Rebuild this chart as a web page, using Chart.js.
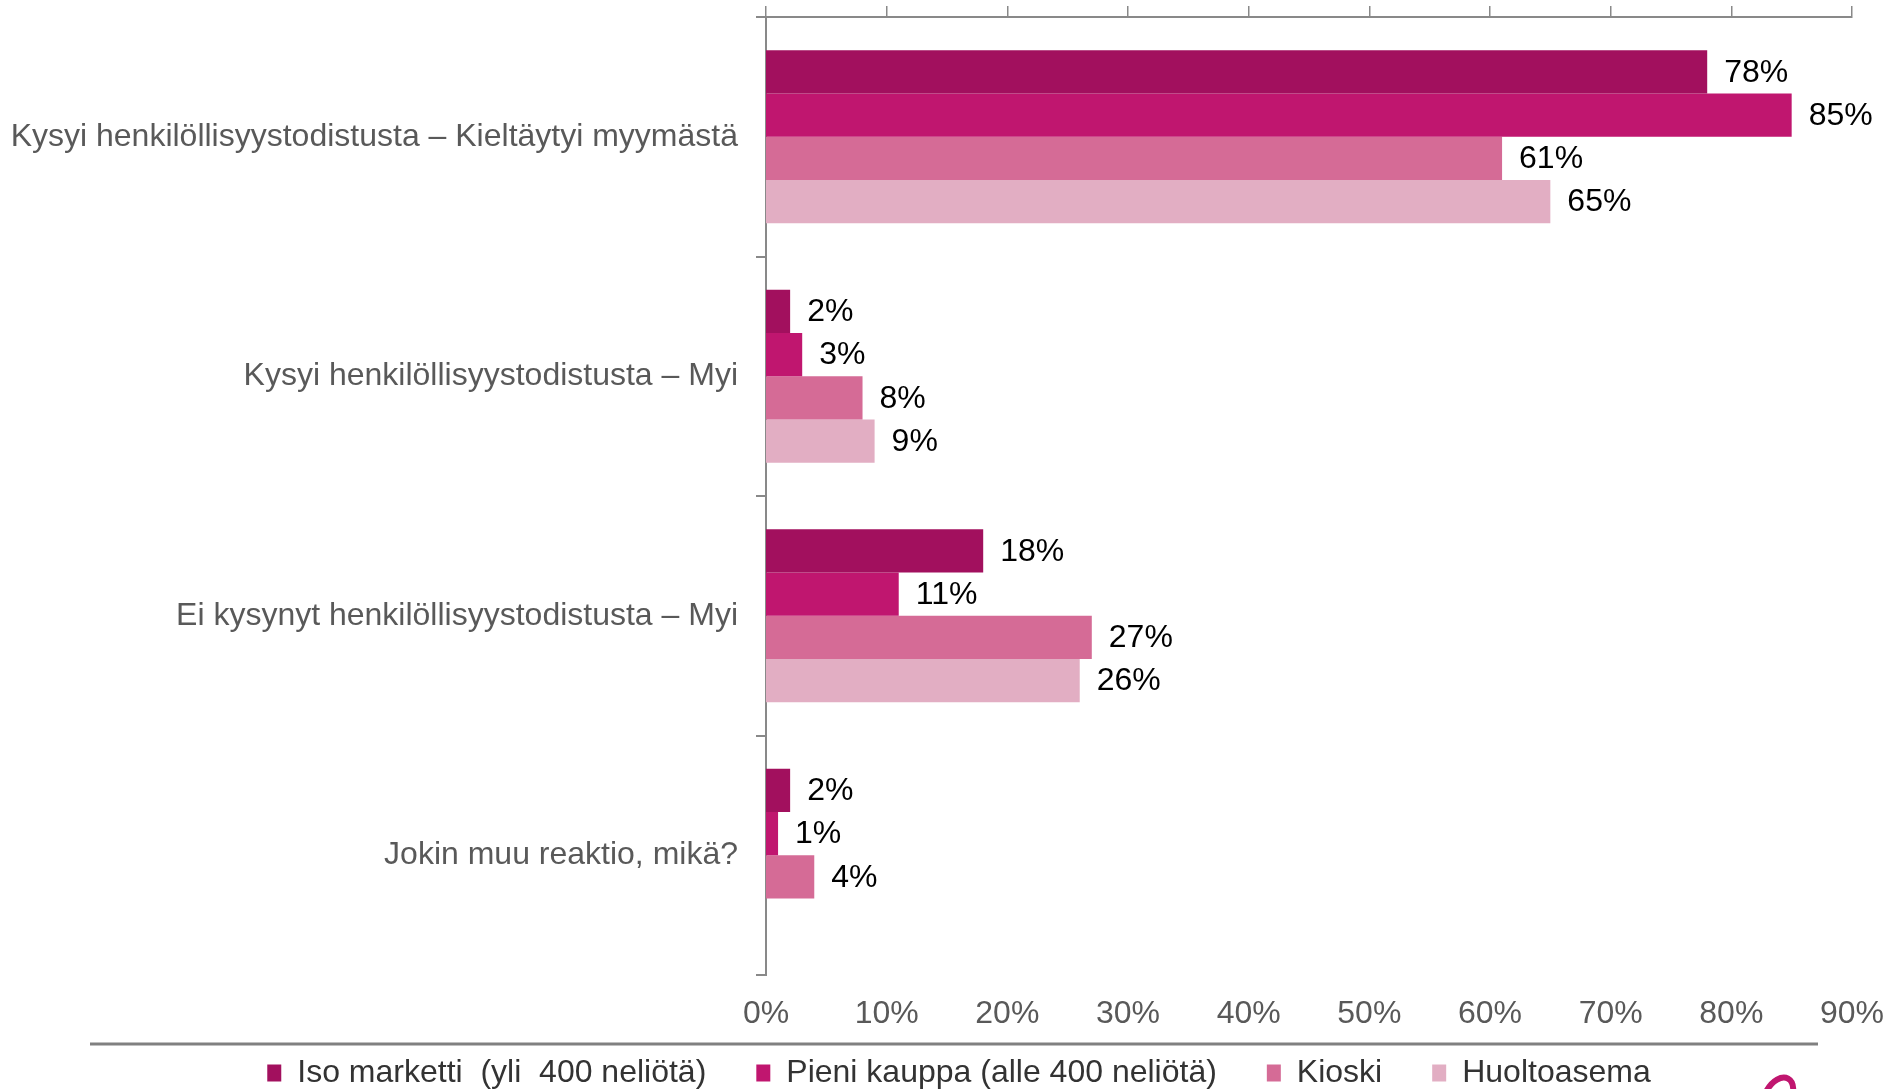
<!DOCTYPE html>
<html>
<head>
<meta charset="utf-8">
<title>Reaktiot</title>
<script src="https://cdn.jsdelivr.net/npm/chart.js@4/dist/chart.umd.min.js"></script>
<style>
    html, body { margin: 0; padding: 0; background: #fff; overflow: hidden; }
    #chartWrap { width: 1889px; height: 1089px; overflow: hidden; }
</style>
</head>
<body>
<div id="chartWrap">
    <canvas id="reactionChart" width="1889" height="1127"></canvas>
</div>
<script>
// Chart data
const categories = [
    'Kysyi henkilöllisyystodistusta – Kieltäytyi myymästä',
    'Kysyi henkilöllisyystodistusta – Myi',
    'Ei kysynyt henkilöllisyystodistusta – Myi',
    'Jokin muu reaktio, mikä?'
];
const seriesNames = ['Iso marketti  (yli  400 neliötä)', 'Pieni kauppa (alle 400 neliötä)', 'Kioski', 'Huoltoasema'];
const isoMarketti = [78, 2, 18, 2];
const pieniKauppa = [85, 3, 11, 1];
const kioski = [61, 8, 27, 4];
const huoltoasema = [65, 9, 26, null];
const tickValues = [0, 10, 20, 30, 40, 50, 60, 70, 80, 90];
const seriesColors = ['#A2105E', '#C0166F', '#D56B96', '#E2AEC3'];

const AXIS_GREY = '#898989';
const LABEL_GREY = '#595959';

Chart.defaults.font.family = "'Liberation Sans', Arial, sans-serif";
Chart.defaults.font.size = 32;

// Value labels at the end of each bar
const valueLabels = {
    id: 'valueLabels',
    afterDatasetsDraw(chart) {
        const ctx = chart.ctx;
        ctx.save();
        ctx.font = "32px 'Liberation Sans', Arial, sans-serif";
        ctx.fillStyle = '#000';
        ctx.textAlign = 'left';
        ctx.textBaseline = 'middle';
        chart.data.datasets.forEach((ds, i) => {
            chart.getDatasetMeta(i).data.forEach((bar, j) => {
                const v = ds.data[j];
                if (v === null || v === undefined) return;
                ctx.fillText(v + '%', bar.x + 17, bar.y + 1);
            });
        });
        ctx.restore();
    }
};

// Put the legend row under the separator line, centred like the original
const legendPlacement = {
    id: 'legendPlacement',
    afterLayout(chart) {
        const lg = chart.legend;
        if (!lg) return;
        const h = lg.height;
        lg.left = 66;
        lg.right = 1852;
        lg.top = 1007;
        lg.bottom = 1007 + h;
    }
};

// Separator line above legend and the logo corner
const decorations = {
    id: 'decorations',
    afterDraw(chart) {
        const ctx = chart.ctx;
        ctx.save();
        ctx.strokeStyle = '#808080';
        ctx.lineWidth = 3;
        ctx.beginPath();
        ctx.moveTo(90, 1044);
        ctx.lineTo(1818, 1044);
        ctx.stroke();

        ctx.strokeStyle = '#C0166F';
        ctx.lineWidth = 6;
        ctx.beginPath();
        ctx.ellipse(1778, 1097, 13, 21, 0.5, Math.PI * 1.0, Math.PI * 2.1);
        ctx.stroke();
        ctx.restore();
    }
};

const valueSets = [isoMarketti, pieniKauppa, kioski, huoltoasema];

new Chart(document.getElementById('reactionChart'), {
    type: 'bar',
    data: {
        labels: categories,
        datasets: seriesNames.map((name, i) => ({
            label: name,
            data: valueSets[i],
            backgroundColor: seriesColors[i],
            borderWidth: 0,
            categoryPercentage: 0.722,
            barPercentage: 1.0
        }))
    },
    options: {
        indexAxis: 'y',
        responsive: false,
        animation: false,
        devicePixelRatio: 1,
        layout: { padding: { left: 0, right: 37, top: 0, bottom: 0 } },
        plugins: {
            tooltip: { enabled: false },
            legend: {
                position: 'bottom',
                labels: {
                    boxWidth: 14,
                    boxHeight: 17,
                    padding: 50,
                    color: '#333',
                    font: { size: 32 }
                }
            }
        },
        scales: {
            y: {
                position: 'left',
                grid: {
                    display: true,
                    drawOnChartArea: false,
                    drawTicks: true,
                    tickLength: 10,
                    offset: true,
                    color: AXIS_GREY,
                    lineWidth: 2
                },
                border: { display: true, color: AXIS_GREY, width: 2 },
                ticks: { color: LABEL_GREY, padding: 18, font: { size: 32 } },
                afterFit: scale => {
                    scale.width = 766;
                    scale.paddingTop = 0;
                    scale.paddingBottom = 0;
                }
            },
            x: {
                position: 'bottom',
                min: 0,
                max: 90,
                grid: { display: false },
                border: { display: false },
                afterBuildTicks: scale => { scale.ticks = tickValues.map(v => ({ value: v })); },
                ticks: {
                    color: LABEL_GREY,
                    padding: 12,
                    font: { size: 32 },
                    autoSkip: false,
                    maxRotation: 0,
                    callback: v => v + '%'
                },
                afterFit: scale => {
                    scale.height = 60;
                    scale.paddingLeft = 0;
                    scale.paddingRight = 0;
                }
            },
            xTop: {
                position: 'top',
                min: 0,
                max: 90,
                grid: {
                    display: true,
                    drawOnChartArea: false,
                    drawTicks: true,
                    tickLength: 11,
                    color: AXIS_GREY,
                    lineWidth: 1.5
                },
                border: { display: true, color: AXIS_GREY, width: 2 },
                afterBuildTicks: scale => { scale.ticks = tickValues.map(v => ({ value: v })); },
                ticks: { display: false },
                afterFit: scale => {
                    scale.height = 17;
                    scale.paddingLeft = 0;
                    scale.paddingRight = 0;
                }
            }
        }
    },
    plugins: [valueLabels, legendPlacement, decorations]
});
</script>
</body>
</html>
